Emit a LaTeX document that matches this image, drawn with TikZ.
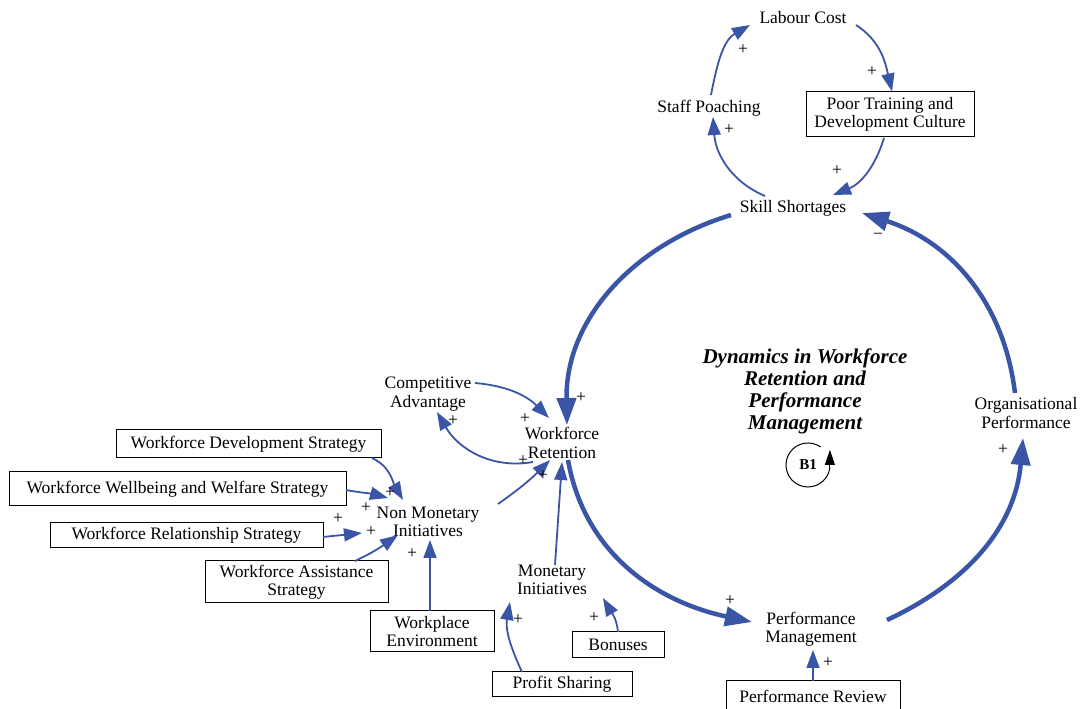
\documentclass[tikz,border=0pt]{standalone}
\usepackage{fontspec}
\setmainfont{Liberation Serif}
\usetikzlibrary{arrows.meta}
\definecolor{linkblue}{RGB}{58,84,166}
\begin{document}
\begin{tikzpicture}[x=1pt,y=1pt,
  lbl/.style={font=\fontsize{17.5}{18.5}\selectfont, align=center, inner sep=0pt},
  box/.style={lbl, draw=black, line width=1pt},
  pol/.style={font=\fontsize{17.5}{17.5}\selectfont, inner sep=0pt},
  link/.style={draw=linkblue, line width=1.8pt, -{Triangle[length=18pt,width=13pt]}},
  mainlink/.style={draw=linkblue, line width=4.5pt, -{Triangle[length=27pt,width=19pt]}},
  title/.style={font=\bfseries\itshape\fontsize{21}{22}\selectfont, align=center, inner sep=0pt},
]
\useasboundingbox (0,0) rectangle (1080,709);

% variables of the upper loop
\node[lbl] (lc) at (803,691) {Labour Cost};
\node[lbl] (sp) at (709,601) {Staff Poaching};
\node[box, minimum width=168, minimum height=45] (pt) at (890,594.5) {Poor Training and\\Development Culture};
\node[lbl] (ss) at (793,501) {Skill Shortages};

% variables of the main loop
\node[lbl] (ca) at (428,315) {Competitive\\Advantage};
\node[lbl] (wr) at (562,266) {Workforce\\Retention};
\node[lbl] (pm) at (811,80) {Performance\\Management};
\node[lbl] (op) at (1026,296) {Organisational\\Performance};

% initiatives and their drivers
\node[box, minimum width=265, minimum height=28] (wds) at (248.5,265) {Workforce Development Strategy};
\node[box, minimum width=337, minimum height=34] (wws) at (177.5,220) {Workforce Wellbeing and Welfare Strategy};
\node[lbl] (nmi) at (428,187) {Non Monetary\\Initiatives};
\node[box, minimum width=273, minimum height=25] (wrs) at (186.5,173.5) {Workforce Relationship Strategy};
\node[box, minimum width=183, minimum height=42] (was) at (296.5,127) {Workforce Assistance\\Strategy};
\node[box, minimum width=124, minimum height=41] (we) at (432,77.5) {Workplace\\Environment};
\node[lbl] (mi) at (552,129) {Monetary\\Initiatives};
\node[box, minimum width=92, minimum height=26] (bon) at (618,64) {Bonuses};
\node[box, minimum width=140, minimum height=25] (ps) at (562,24.5) {Profit Sharing};
\node[box, minimum width=174, minimum height=31] (pr) at (813,12.5) {Performance Review};

% loop title and marker
\node[title] (ttl) at (805,318) {Dynamics in Workforce\\Retention and\\Performance\\Management};
\node[font=\bfseries\fontsize{15}{15}\selectfont, inner sep=0pt] (b1) at (808,244) {B1};
\draw[black, line width=1pt] ([shift={(55:22)}]b1.center) arc[start angle=55, end angle=355, radius=22]
  coordinate (b1end);
\draw[black, line width=1pt, -{Triangle[length=15pt,width=10pt]}] (b1end) -- ++(0,17);

% upper loop links
\draw[link] ([shift={(-28,12)}]ss.center) to[out=157,in=274] ([shift={(4,-9)}]sp.center);
\draw[link] ([shift={(2,13)}]sp.center) to[out=79,in=210] ([shift={(-53,-7)}]lc.center);
\draw[link] ([shift={(53,-7)}]lc.center) to[out=-33,in=103] ([shift={(2,23)}]pt.center);
\draw[link] ([shift={(-6,-23.5)}]pt.center) to[out=-107,in=22] ([shift={(40,13)}]ss.center);

% main balancing loop
\draw[mainlink] ([shift={(-62,-7)}]ss.center) to[out=197,in=91] ([shift={(5,18)}]wr.center);
\draw[mainlink] ([shift={(6,-17)}]wr.center) to[out=280,in=168] ([shift={(-59,7)}]pm.center);
\draw[mainlink] ([shift={(76,9)}]pm.center) to[out=25,in=265] ([shift={(-3,-25)}]op.center);
\draw[mainlink] ([shift={(-11,20)}]op.center) to[out=97,in=342] ([shift={(69,-5)}]ss.center);

% retention links
\draw[link] ([shift={(47,11)}]ca.center) to[out=-5,in=135] ([shift={(-13,25)}]wr.center);
\draw[link] ([shift={(-29,-19)}]wr.center) to[out=190,in=-60] ([shift={(9,-18)}]ca.center);
\draw[link] ([shift={(70,18)}]nmi.center) to[out=35,in=225] ([shift={(-12,-17)}]wr.center);
\draw[link] ([shift={(3,15)}]mi.center) -- ([shift={(0,-19)}]wr.center);

% non monetary initiatives
\draw[link] ([shift={(123.5,-14)}]wds.center) to[out=-25,in=120] ([shift={(-25,22)}]nmi.center);
\draw[link] ([shift={(168.5,-1)}]wws.center) to[out=-10,in=165] ([shift={(-40,24)}]nmi.center);
\draw[link] ([shift={(136.5,-1.5)}]wrs.center) -- ([shift={(-66,-11)}]nmi.center);
\draw[link] ([shift={(58.5,21)}]was.center) to[out=25,in=215] ([shift={(-30,-13)}]nmi.center);
\draw[link] ([shift={(-2,20.5)}]we.center) -- ([shift={(2,-18)}]nmi.center);

% monetary initiatives
\draw[link] ([shift={(-40,12.5)}]ps.center) to[out=115,in=-100] ([shift={(-42,-22)}]mi.center);
\draw[link] ([shift={(0,13)}]bon.center) to[out=95,in=-60] ([shift={(51,-18)}]mi.center);
\draw[link] ([shift={(0,15.5)}]pr.center) -- ([shift={(2,-21)}]pm.center);

% link polarities
\node[pol] (p1) at (743,659) {+};
\node[pol] (p2) at (729,579) {+};
\node[pol] (p3) at (872,637) {+};
\node[pol] (p4) at (837,538) {+};
\node[pol] (p5) at (581,311) {+};
\node[pol] (p6) at (730,108) {+};
\node[pol] (p7) at (1003,259) {+};
\node[pol] (p8) at (878,473) {\textminus};
\node[pol] (p9) at (525,290) {+};
\node[pol] (p10) at (453,288) {+};
\node[pol] (p11) at (523,248) {+};
\node[pol] (p12) at (543,233) {+};
\node[pol] (p13) at (390,216) {+};
\node[pol] (p14) at (366,201) {+};
\node[pol] (p15) at (338,190) {+};
\node[pol] (p16) at (371,177) {+};
\node[pol] (p17) at (412,155) {+};
\node[pol] (p18) at (518,89) {+};
\node[pol] (p19) at (594,91) {+};
\node[pol] (p20) at (828,46) {+};
\end{tikzpicture}
\end{document}
